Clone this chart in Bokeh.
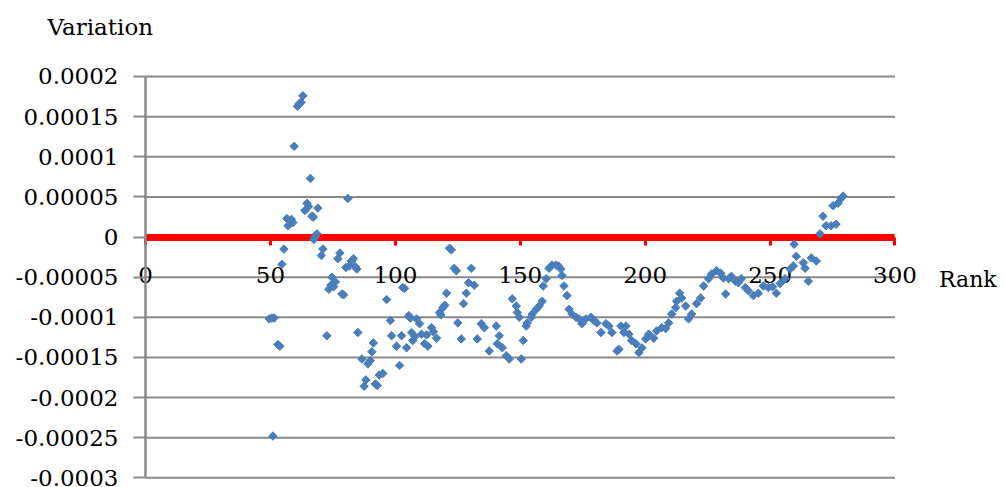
import math
from bokeh.plotting import figure
from bokeh.models import (Range1d, FixedTicker, CustomJSTickFormatter, Label)
from bokeh.embed import file_html
from bokeh.resources import INLINE

# ---- data ----
rank = [
    49.5, 50.5, 51.5, 51.0, 53.0, 53.8, 54.6, 55.4, 56.6, 57.0, 57.8, 58.4, 59.0, 59.5,
    60.8, 61.5, 62.3, 63.0, 63.8, 64.6, 65.3, 66.0, 66.6, 67.2, 67.4, 68.0, 68.6, 69.0,
    70.4, 71.0, 72.6, 73.4, 74.2, 74.6, 75.3, 76.0, 77.0, 77.8, 78.6, 79.3, 80.2, 81.0,
    81.6, 82.4, 83.2, 84.0, 84.6, 85.0, 86.6, 87.5, 88.2, 89.0, 90.0, 90.6, 91.2, 92.0,
    92.8, 93.6, 95.0, 96.5, 98.0, 98.5, 100.5, 101.7, 102.5, 103.0, 103.7, 104.5, 105.4,
    106.0, 106.5, 107.0, 107.8, 108.5, 109.7, 110.5, 111.7, 112.5, 113.0, 114.5, 115.2,
    116.5, 117.7, 118.2, 119.0, 119.8, 120.5, 121.7, 122.4, 123.6, 124.4, 125.0, 126.4,
    127.3, 128.4, 129.3, 130.4, 131.6, 132.8, 134.4, 135.6, 137.6, 140.4, 140.8, 141.6,
    142.8, 144.4, 145.6, 146.8, 148.4, 148.8, 149.6, 150.4, 151.2, 152.4, 152.8, 154.4,
    154.8, 156.4, 157.6, 158.8, 159.2, 160.4, 161.5, 162.7, 164.3, 165.3, 166.3, 166.7,
    167.5, 168.7, 169.5, 170.7, 172.3, 173.5, 174.7, 176.3, 178.3, 179.5, 180.7, 182.3,
    184.3, 185.5, 186.7, 188.7, 189.5, 190.3, 191.5, 192.3, 193.5, 194.6, 196.3, 197.5,
    198.7, 200.2, 201.4, 203.4, 204.6, 206.6, 208.2, 209.4, 210.6, 212.2, 212.6, 213.8,
    214.6, 216.2, 217.4, 218.6, 220.6, 222.2, 223.4, 225.4, 226.6, 228.6, 230.2, 231.3,
    232.2, 233.4, 234.5, 236.1, 237.3, 238.5, 240.1, 241.3, 243.3, 245.3, 247.3, 249.3,
    251.0, 252.5, 254.0, 256.0, 258.0, 259.3, 259.6, 260.5, 263.3, 264.0, 265.3, 266.5,
    268.5, 270.0, 271.2, 272.4, 274.4, 276.4, 275.2, 277.2, 278.4, 279.2,
]
variation = [
    -102e-6, -101e-6, -101e-6, -248e-6, -134e-6, -136e-6, -34e-6, -15e-6, 23e-6, 14e-6, 20e-6, 22e-6, 18e-6, 113e-6,
    163e-6, 166e-6, 168e-6, 176e-6, 33e-6, 42e-6, 38e-6, 73e-6, 26e-6, 25e-6, -3e-6, 1e-6, 4e-6, 36e-6,
    -23e-6, -15e-6, -123e-6, -65e-6, -60e-6, -50e-6, -62e-6, -56e-6, -27e-6, -20e-6, -71e-6, -72e-6, -38e-6, 48e-6,
    -36e-6, -30e-6, -27e-6, -37e-6, -40e-6, -119e-6, -152e-6, -186e-6, -178e-6, -158e-6, -154e-6, -143e-6, -132e-6, -183e-6,
    -185e-6, -172e-6, -170e-6, -78e-6, -104e-6, -123e-6, -136e-6, -160e-6, -123e-6, -63e-6, -64e-6, -138e-6, -98e-6,
    -101e-6, -119e-6, -129e-6, -124e-6, -102e-6, -108e-6, -121e-6, -133e-6, -122e-6, -136e-6, -113e-6, -118e-6,
    -126e-6, -94e-6, -97e-6, -88e-6, -85e-6, -70e-6, -14e-6, -16e-6, -39e-6, -42e-6, -107e-6, -127e-6,
    -83e-6, -70e-6, -57e-6, -39e-6, -60e-6, -127e-6, -108e-6, -113e-6, -142e-6, -111e-6, -133e-6, -123e-6,
    -138e-6, -148e-6, -152e-6, -77e-6, -86e-6, -94e-6, -100e-6, -152e-6, -129e-6, -111e-6, -107e-6, -100e-6,
    -96e-6, -90e-6, -86e-6, -80e-6, -61e-6, -52e-6, -39e-6, -35e-6, -35e-6, -36e-6, -40e-6, -48e-6,
    -61e-6, -73e-6, -90e-6, -96e-6, -100e-6, -102e-6, -108e-6, -102e-6, -100e-6, -104e-6, -107e-6, -119e-6,
    -108e-6, -111e-6, -119e-6, -142e-6, -140e-6, -111e-6, -119e-6, -111e-6, -121e-6, -129e-6, -133e-6, -144e-6,
    -138e-6, -127e-6, -121e-6, -126e-6, -117e-6, -113e-6, -114e-6, -107e-6, -96e-6, -88e-6, -80e-6, -70e-6,
    -76e-6, -86e-6, -102e-6, -96e-6, -83e-6, -76e-6, -61e-6, -52e-6, -46e-6, -42e-6, -45e-6, -51e-6,
    -71e-6, -52e-6, -49e-6, -55e-6, -57e-6, -52e-6, -63e-6, -67e-6, -73e-6, -70e-6, -61e-6, -63e-6,
    -62e-6, -70e-6, -58e-6, -52e-6, -40e-6, -36e-6, -9e-6, -24e-6, -32e-6, -39e-6, -55e-6, -26e-6,
    -30e-6, 4e-6, 26e-6, 14e-6, 14e-6, 16e-6, 39e-6, 42e-6, 48e-6, 51e-6,
]
x_ticks = [0, 50, 100, 150, 200, 250, 300]
y_ticks = [-0.0003, -0.00025, -0.0002, -0.00015, -0.0001, -0.00005,
           0.0, 0.00005, 0.0001, 0.00015, 0.0002]
x_title = "Rank"
y_title = "Variation"

FONT = "DejaVu Serif"
GRAY = "#898989"
RED = "#FF0000"
BLUE = "#4A7EBB"

# the plot frame covers the whole canvas; the axes cross inside it
p = figure(width=1005, height=487, output_backend="svg", toolbar_location=None,
           x_range=Range1d(-58.04, 344.23),
           y_range=Range1d(-3.1209e-4, 2.9469e-4),
           min_border_left=0, min_border_right=0,
           min_border_top=0, min_border_bottom=0)
p.outline_line_color = None
p.background_fill_color = "white"
p.border_fill_color = "white"
p.xgrid.visible = False
p.ygrid.visible = False

# ---- y axis at x = 0 ----
yax = p.yaxis[0]
yax.fixed_location = x_ticks[0]
yax.bounds = (y_ticks[0], y_ticks[-1])
yax.ticker = FixedTicker(ticks=y_ticks)
yax.formatter = CustomJSTickFormatter(code="""
let s = tick.toFixed(5);
if (s.indexOf('.') >= 0) { s = s.replace(/0+$/, '').replace(/\\.$/, ''); }
if (s === '-0') { s = '0'; }
return s;
""")
yax.major_label_text_font = FONT
yax.major_label_text_font_size = "23px"
yax.major_label_text_color = "black"
yax.axis_line_color = GRAY
yax.axis_line_width = 2.5
yax.major_tick_line_color = GRAY
yax.major_tick_line_width = 2
yax.major_tick_out = 12
yax.major_tick_in = 0
yax.minor_tick_line_color = None
yax.major_label_standoff = 15

# horizontal gridlines spanning the x axis extent
n = len(y_ticks)
p.segment(x0=[x_ticks[0]] * n, x1=[x_ticks[-1]] * n, y0=y_ticks, y1=y_ticks,
          line_color=GRAY, line_width=2)

# ---- x axis crossing at y = 0 (red) ----
xax = p.xaxis[0]
xax.fixed_location = 0
xax.bounds = (x_ticks[0], x_ticks[-1])
xax.ticker = FixedTicker(ticks=x_ticks)
xax.axis_line_color = RED
xax.axis_line_width = 7
xax.major_tick_line_color = RED
xax.major_tick_line_width = 3
xax.major_tick_out = 8
xax.major_tick_in = 0
xax.minor_tick_line_color = None
xax.major_label_text_font = FONT
xax.major_label_text_font_size = "23px"
xax.major_label_text_color = "black"
xax.major_label_standoff = 22

# data points (drawn above the axis line)
p.scatter(rank, variation, marker="square", angle=math.pi / 4, size=6,
          fill_color=BLUE, line_color=BLUE, line_width=1, level="overlay")

p.add_layout(Label(x=x_ticks[-1], y=0, x_offset=44, y_offset=-42, text=x_title,
                   text_align="left", text_baseline="middle",
                   text_font=FONT, text_font_size="22px", text_color="black"))
p.add_layout(Label(x=x_ticks[0], y=y_ticks[-1], x_offset=-98, y_offset=49, text=y_title,
                   text_align="left", text_baseline="middle",
                   text_font=FONT, text_font_size="23px", text_color="black"))

open("out.html", "w").write(file_html(p, INLINE))
